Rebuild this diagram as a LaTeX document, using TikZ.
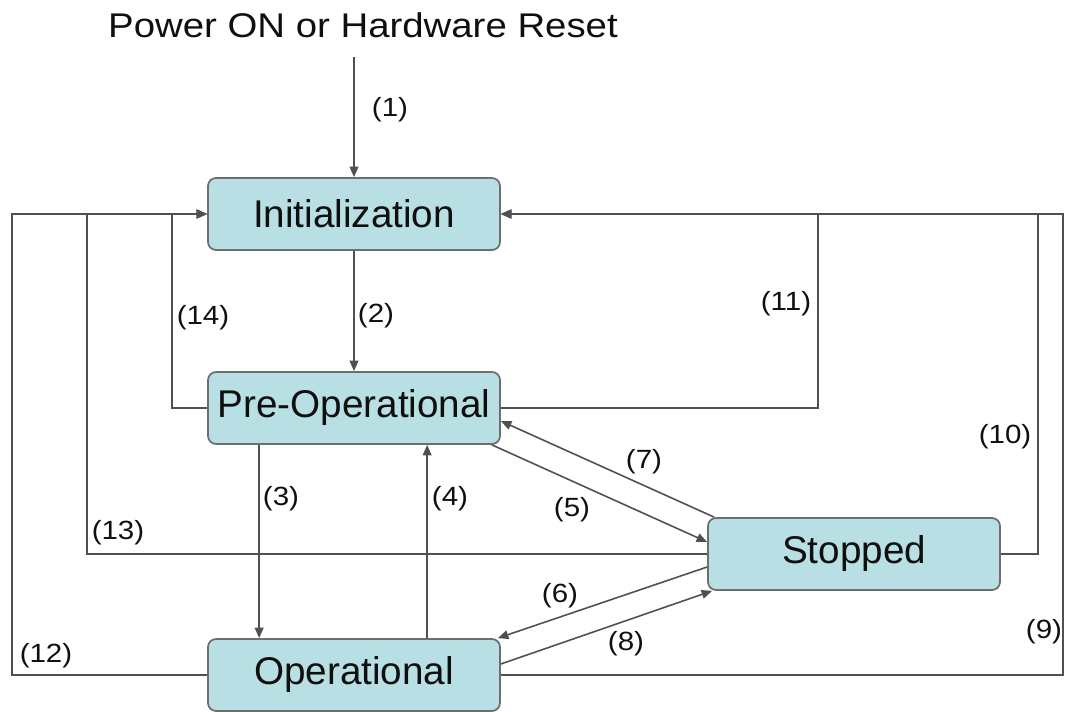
\documentclass[tikz,border=0pt]{standalone}
\usepackage{fontspec}
\setmainfont{Liberation Sans}
\newfontfamily\widesans{Liberation Sans}[FakeStretch=1.12]
\usetikzlibrary{arrows.meta,calc}

\definecolor{statefill}{RGB}{184,223,227}
\definecolor{stateedge}{RGB}{110,110,110}
\definecolor{linegray}{RGB}{80,80,80}
\definecolor{ink}{RGB}{15,15,15}

\tikzset{
  state/.style={draw=stateedge, line width=1pt, fill=statefill,
    rounded corners=0.16cm, minimum width=5.84cm, minimum height=1.44cm,
    inner sep=0pt, text=ink, font=\fontsize{22}{26}\selectfont},
  conn/.style={draw=linegray, line width=0.9pt,
    -{Triangle[length=6pt,width=5pt]}},
  lbl/.style={text=ink, inner sep=0pt, font=\widesans\fontsize{15}{18}\selectfont},
}

\begin{document}
\begin{tikzpicture}[x=0.02cm, y=0.02cm]
  \useasboundingbox (0,0) rectangle (1066,711);

  % the four states
  \node[state] (init)    at (354,497) {Initialization};
  \node[state] (preop)   at (354,303) {Pre-Operational};
  \node[state] (stopped) at (854,157) {Stopped};
  \node[state] (oper)    at (354,36)  {Operational};

  \node[text=ink, font=\widesans\fontsize{19.5}{24}\selectfont] (reset) at (363,686)
    {Power ON or Hardware Reset};
  \coordinate (on) at (354,654);

  % direct transitions
  \draw[conn] (on) -- (init);
  \draw[conn] (init) -- (preop);
  \draw[conn] ($(preop.south west)+(52,0)$) -- ($(oper.north west)+(52,0)$);
  \draw[conn] ($(oper.north west)+(220,0)$) -- ($(preop.south west)+(220,0)$);
  \draw[conn] ($(preop.south east)+(-9,0)$) -- ($(stopped.west)+(0,12)$);
  \draw[conn] ($(stopped.west)+(0,-13)$) -- ($(oper.north east)+(-3,0)$);
  \draw[conn] ($(stopped.north west)+(7,0)$) -- ($(preop.east)+(0,-13)$);
  \draw[conn] ($(oper.east)+(0,11)$) -- ($(stopped.south west)+(5,0)$);

  % reset paths back to init
  \draw[conn] (oper.east) -| (1063,497) -- (init.east);
  \draw[conn] (stopped.east) -| (1038,497) -- (init.east);
  \draw[conn] (preop.east) -| (818,497) -- (init.east);
  \draw[conn] (oper.west) -| (12,497) -- (init.west);
  \draw[conn] (stopped.west) -| (87,497) -- (init.west);
  \draw[conn] (preop.west) -| (172,497) -- (init.west);

  % transition numbers
  \foreach \n/\x/\y in {1/390/601, 2/376/395, 3/281/212, 4/450/212, 5/572/201,
      6/560/115, 7/644/249, 8/626/67, 9/1044/79, 10/1005/274, 11/786/407,
      12/46/55, 13/118/178, 14/203/393}
    \node[lbl] (l\n) at (\x,\y) {(\n)};
\end{tikzpicture}
\end{document}
